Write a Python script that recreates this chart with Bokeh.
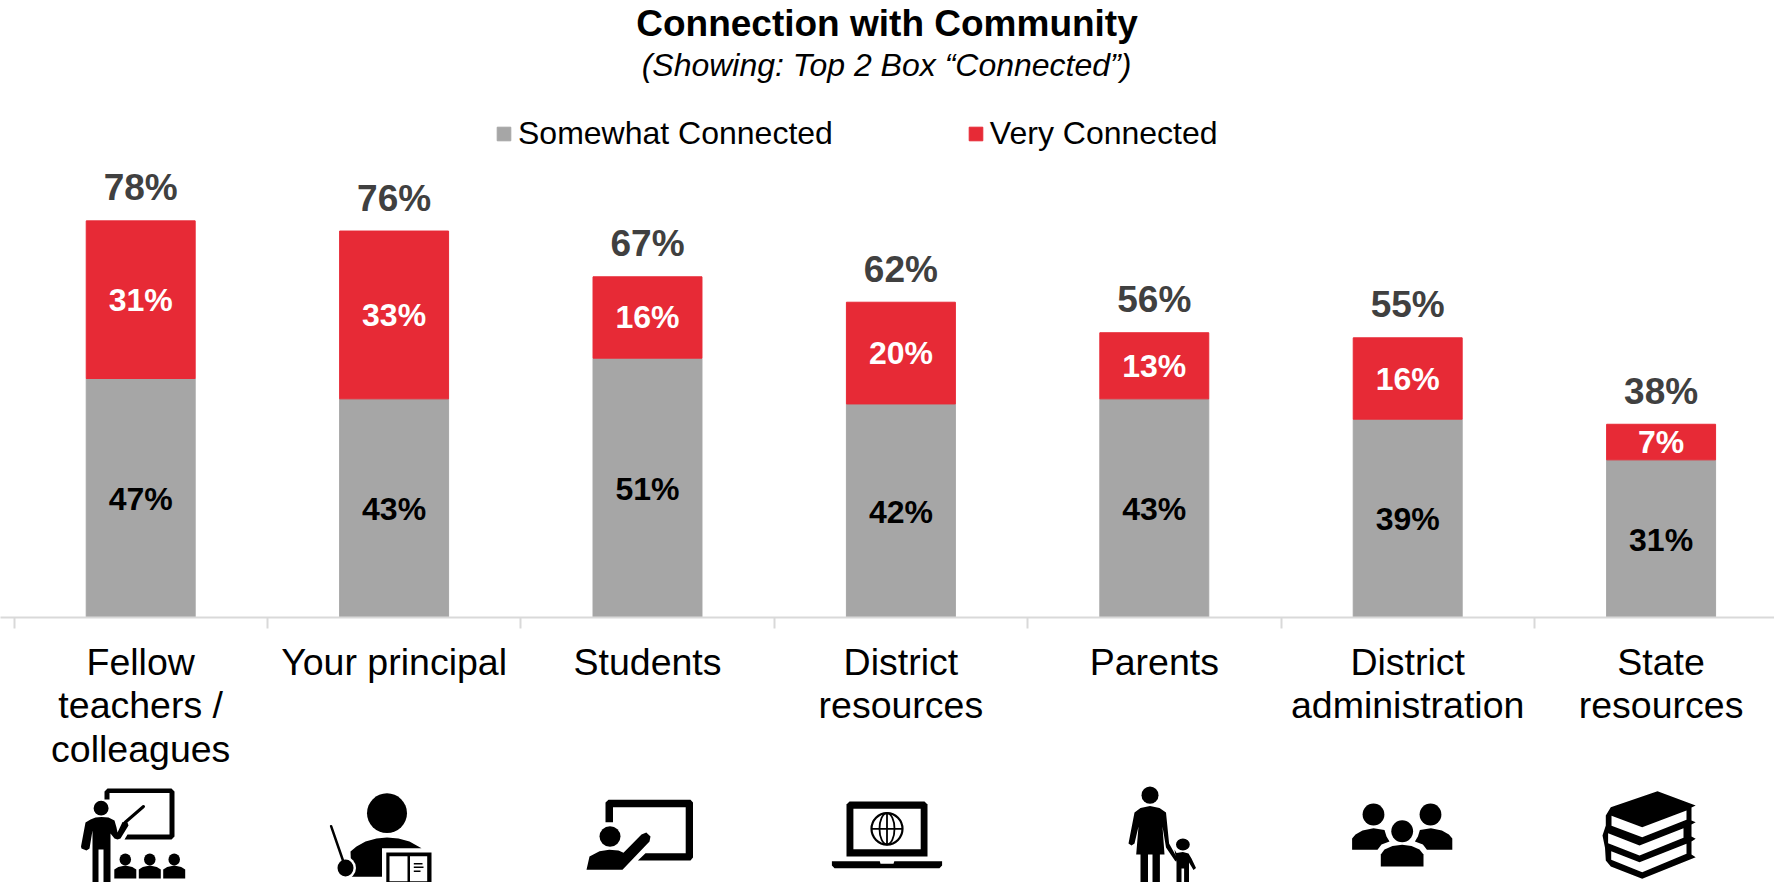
from bokeh.core.properties import value
from bokeh.embed import file_html
from bokeh.layouts import column
from bokeh.models import ColumnDataSource, FixedTicker, Legend, LinearAxis, Range1d
from bokeh.plotting import figure
from bokeh.resources import INLINE

# Chart values
categories = ["Fellow\nteachers /\ncolleagues", "Your principal", "Students",
              "District\nresources", "Parents", "District\nadministration", "State\nresources"]
somewhat = [47, 43, 51, 42, 43, 39, 31]
very = [31, 33, 16, 20, 13, 16, 7]
totals = [78, 76, 67, 62, 56, 55, 38]

GREY = "#A6A6A6"
RED = "#E72A36"
FONT = "Liberation Sans"

WIDTH, HEIGHT = 1774, 882
CHART_H, FRAME_H = 782, 617
BAND_PX, LEFT_PX = 253.4, 13.5
UNIT_PX = 5.085

xs = list(range(len(categories)))
src = ColumnDataSource(dict(
    x=xs, somewhat=somewhat, very=very,
    low_mid=[s / 2 for s in somewhat],
    high_mid=[s + v / 2 for s, v in zip(somewhat, very)],
    low_txt=[f"{s}%" for s in somewhat],
    high_txt=[f"{v}%" for v in very],
    total=totals,
    total_txt=[f"{t}%" for t in totals],
))

x_start = -0.5 - LEFT_PX / BAND_PX
p = figure(width=WIDTH, height=CHART_H, output_backend="svg", toolbar_location=None,
           x_range=Range1d(x_start, x_start + WIDTH / BAND_PX),
           y_range=Range1d(0, FRAME_H / UNIT_PX),
           x_axis_location=None, y_axis_location=None,
           min_border_left=0, min_border_right=0, min_border_top=0,
           min_border_bottom=CHART_H - FRAME_H, outline_line_color=None)
p.grid.visible = False

# Page-pixel coordinates for the headings
p.extra_x_ranges["page"] = Range1d(0, WIDTH)
p.extra_y_ranges["page"] = Range1d(FRAME_H, 0)

stack = p.vbar_stack(["somewhat", "very"], x="x", width=0.43, color=[GREY, RED], source=src)

# Category axis: labels on the bar centres, ticks on the band edges
axis = LinearAxis(
    ticker=FixedTicker(ticks=xs, minor_ticks=[i - 0.5 for i in range(len(xs) + 1)]),
    major_label_overrides={i: c for i, c in zip(xs, categories)},
    major_label_text_font=FONT, major_label_text_font_size="37.5px",
    major_label_text_color="#000000", major_label_standoff=12,
    major_label_text_line_height=1.04,
    major_label_orientation="horizontal",
    major_tick_in=0, major_tick_out=0, minor_tick_in=0, minor_tick_out=11,
    axis_line_color="#D9D9D9", axis_line_width=2,
    minor_tick_line_color="#D9D9D9", minor_tick_line_width=2,
)
p.add_layout(axis, "below")

# Value labels
p.text("x", "low_mid", text="low_txt", source=src, text_font=value(FONT), text_font_size="32px",
       text_font_style="bold", text_color="#000000", text_align="center", text_baseline="middle",
       y_offset=1)
p.text("x", "high_mid", text="high_txt", source=src, text_font=value(FONT), text_font_size="32px",
       text_font_style="bold", text_color="#FFFFFF", text_align="center", text_baseline="middle")
p.text("x", "total", text="total_txt", source=src, text_font=value(FONT), text_font_size="37px",
       text_font_style="bold", text_color="#404040", text_align="center", text_baseline="middle",
       y_offset=-33)

# Headings
p.text([886.5], [23], text=["Connection with Community"], x_range_name="page", y_range_name="page",
       text_font=value(FONT), text_font_size="37px", text_font_style="bold", text_color="#000000",
       text_align="center", text_baseline="middle")
p.text([886], [64], text=["(Showing: Top 2 Box \u201cConnected\u201d)"], x_range_name="page", y_range_name="page",
       text_font=value(FONT), text_font_size="32px", text_font_style="italic", text_color="#000000",
       text_align="center", text_baseline="middle")

legend = Legend(items=[("Somewhat Connected", [stack[0]]), ("Very Connected", [stack[1]])],
                orientation="horizontal", location=(495, FRAME_H - 152),
                background_fill_alpha=0, border_line_color=None, padding=0, margin=0,
                glyph_width=17, glyph_height=17, label_standoff=6, spacing=134,
                label_text_font=FONT, label_text_font_size="32px", label_text_color="#000000")
p.add_layout(legend, "center")

# Pictogram strip under the axis, drawn in page-pixel coordinates
q = figure(width=WIDTH, height=HEIGHT - CHART_H, output_backend="svg", toolbar_location=None,
           x_range=Range1d(0, WIDTH), y_range=Range1d(HEIGHT, CHART_H),
           x_axis_location=None, y_axis_location=None,
           min_border=0, outline_line_color=None)
q.grid.visible = False


def poly(points, color="#000000"):
    q.patch([a for a, _ in points], [b for _, b in points], fill_color=color, line_color=None)


def oval(cx, cy, w, h, color="#000000"):
    q.ellipse([cx], [cy], width=w, height=h, fill_color=color, line_color=None)


def stroke(xa, ya, width=2.5, color="#000000"):
    q.line(xa, ya, line_width=width, line_color=color, line_cap="round")


# Teacher at a board with three pupils
poly([(104, 799), (104, 791), (107, 788), (171, 788), (174, 791), (174, 836), (171, 839), (124, 839),
      (127, 834), (169, 834), (169, 792.5), (109, 792.5), (109, 799)])
oval(100.6, 807.7, 15, 14.7)
poly([(90, 819), (95, 817), (101, 816.5), (108, 817), (114, 820), (116, 827), (117, 832), (122, 821.5),
      (127, 822), (128, 825), (120, 838), (117, 839), (114, 838), (110, 833), (110, 882), (103, 882),
      (103, 849), (98, 849), (98, 882), (92, 882), (92, 830), (89, 848), (86, 850), (81, 848),
      (80.5, 846), (85, 822)])
stroke([124.5, 143], [822, 806], 3)
for cx in (124.8, 149.3, 173.7):
    oval(cx, 859, 11.5, 12)
    poly([(cx - 11, 878), (cx - 11, 869), (cx - 7, 866.5), (cx, 865), (cx + 7, 866.5), (cx + 11, 869), (cx + 11, 878)])

# Principal with pointer and open book
oval(386.5, 812.7, 40, 39.7)
poly([(350, 851), (356, 846), (365, 841), (376, 838), (386.5, 837), (398, 838), (409, 841), (421, 847.7),
      (381.5, 847.7), (381.5, 876.3), (351, 876.3)])
oval(345, 867.5, 21, 22, "#FFFFFF")
oval(345, 867.5, 16, 17)
stroke([330.6, 342.5], [825.7, 860], 2.5)
poly([(385.8, 852), (431, 852), (431, 882), (385.8, 882)])
poly([(389, 855.7), (407, 855.7), (407, 880.7), (389, 880.7)], "#FFFFFF")
poly([(409.5, 855.7), (426.7, 855.7), (426.7, 880.7), (409.5, 880.7)], "#FFFFFF")
for yy, xe in ((863.3, 422), (866.7, 423), (870.7, 420)):
    q.line([413.3, xe], [yy, yy], line_width=1.6, line_color="#000000")

# Student pointing at a board
poly([(605, 821.7), (605, 802), (608, 799.3), (690, 799.3), (692.5, 802), (692.5, 857), (690, 860), (637.4, 860),
      (645, 852.7), (685.2, 852.7), (685.2, 806.7), (612.5, 806.7), (612.5, 821.7)])
oval(609.5, 836, 21, 20.7)
poly([(586, 869.3), (589, 856), (599, 850.7), (608.7, 849.3), (618, 850), (623, 852.3), (641, 834), (645.8, 832),
      (650, 836), (649, 841), (622, 869.3)])

# Laptop with a globe on screen
poly([(846, 856), (846, 804), (849, 801), (924, 801), (927, 804), (927, 856)])
poly([(852.9, 808.3), (920.2, 808.3), (920.2, 848.7), (852.9, 848.7)], "#FFFFFF")
q.ellipse([886.5], [828.3], width=31, height=31.5, fill_color=None, line_color="#000000", line_width=2.2)
q.ellipse([886.5], [828.3], width=15, height=31.5, fill_color=None, line_color="#000000", line_width=1.8)
q.line([886.5, 886.5], [812.5, 844], line_width=1.8, line_color="#000000")
q.line([871, 902], [828.3, 828.3], line_width=1.8, line_color="#000000")
poly([(831.4, 860.7), (879.3, 860.7), (880, 863.3), (893, 863.3), (893.8, 860.7), (941.6, 860.7), (941.6, 865),
      (939, 867.7), (834, 867.7), (831.4, 865)])

# Parent holding a child's hand
oval(1149.5, 794.7, 17, 17.3)
poly([(1134, 812), (1140, 807.5), (1149.5, 805.5), (1159, 807.5), (1165.5, 812), (1168.6, 843), (1177, 858),
      (1175, 861), (1165.5, 847), (1162, 826), (1164, 854), (1159.4, 854), (1159.4, 882), (1152, 882), (1152, 854),
      (1147.5, 854), (1147.5, 882), (1140, 882), (1140, 854), (1135.7, 854), (1138, 826), (1134, 843), (1131, 845),
      (1128, 843)])
oval(1182.4, 844, 13.8, 12)
poly([(1174, 849), (1176, 852.5), (1182.4, 851.5), (1188, 853), (1191, 858), (1195.5, 867.5), (1193, 869.5),
      (1188.5, 862), (1188.5, 882), (1183.6, 882), (1183.6, 868), (1181, 868), (1181, 882), (1176, 882), (1176, 862)])

# Group of three people
axis_x = 1401.7
left_body = [(1351.6, 849.3), (1351.6, 838), (1355, 834), (1362, 830), (1373, 827.7), (1384, 829.5), (1386, 836),
             (1389, 841), (1381, 844), (1377, 849.3)]
poly(left_body)
poly([(2 * axis_x - a, b) for a, b in left_body])
oval(1373, 814, 21.8, 22)
oval(1430, 814, 21.8, 22)
oval(axis_x, 830.7, 21.8, 22)
poly([(1380.3, 866), (1380.3, 854), (1384, 849), (1392, 845.5), (axis_x, 844.3), (1411, 845.5), (1419, 849),
      (1423, 854), (1423, 866)])

# Stack of books
poly([(1657, 790.7), (1695.2, 805), (1691, 807), (1691, 820), (1695.2, 821.7), (1691, 824), (1691, 836),
      (1695.2, 838.3), (1691, 841), (1691, 854), (1695.2, 856.7), (1641.7, 878.3), (1610.3, 866), (1605.3, 860),
      (1604.5, 847.3), (1602, 835), (1605.3, 825), (1605.3, 815), (1610.3, 806.7)])
poly([(1611, 815.3), (1641.7, 826.7), (1686, 810), (1686, 819.3), (1641.7, 836.7), (1611, 825.3)], "#FFFFFF")
poly([(1607.6, 832.7), (1639, 845), (1683, 827.7), (1683, 837.3), (1639, 855), (1607.6, 842.7)], "#FFFFFF")
poly([(1610.7, 850.7), (1639, 861.7), (1686, 843.3), (1686, 853.3), (1641.7, 871.7), (1610.7, 859.3)], "#FFFFFF")

page = column(p, q, spacing=0)
open("out.html", "w").write(file_html(page, INLINE))
